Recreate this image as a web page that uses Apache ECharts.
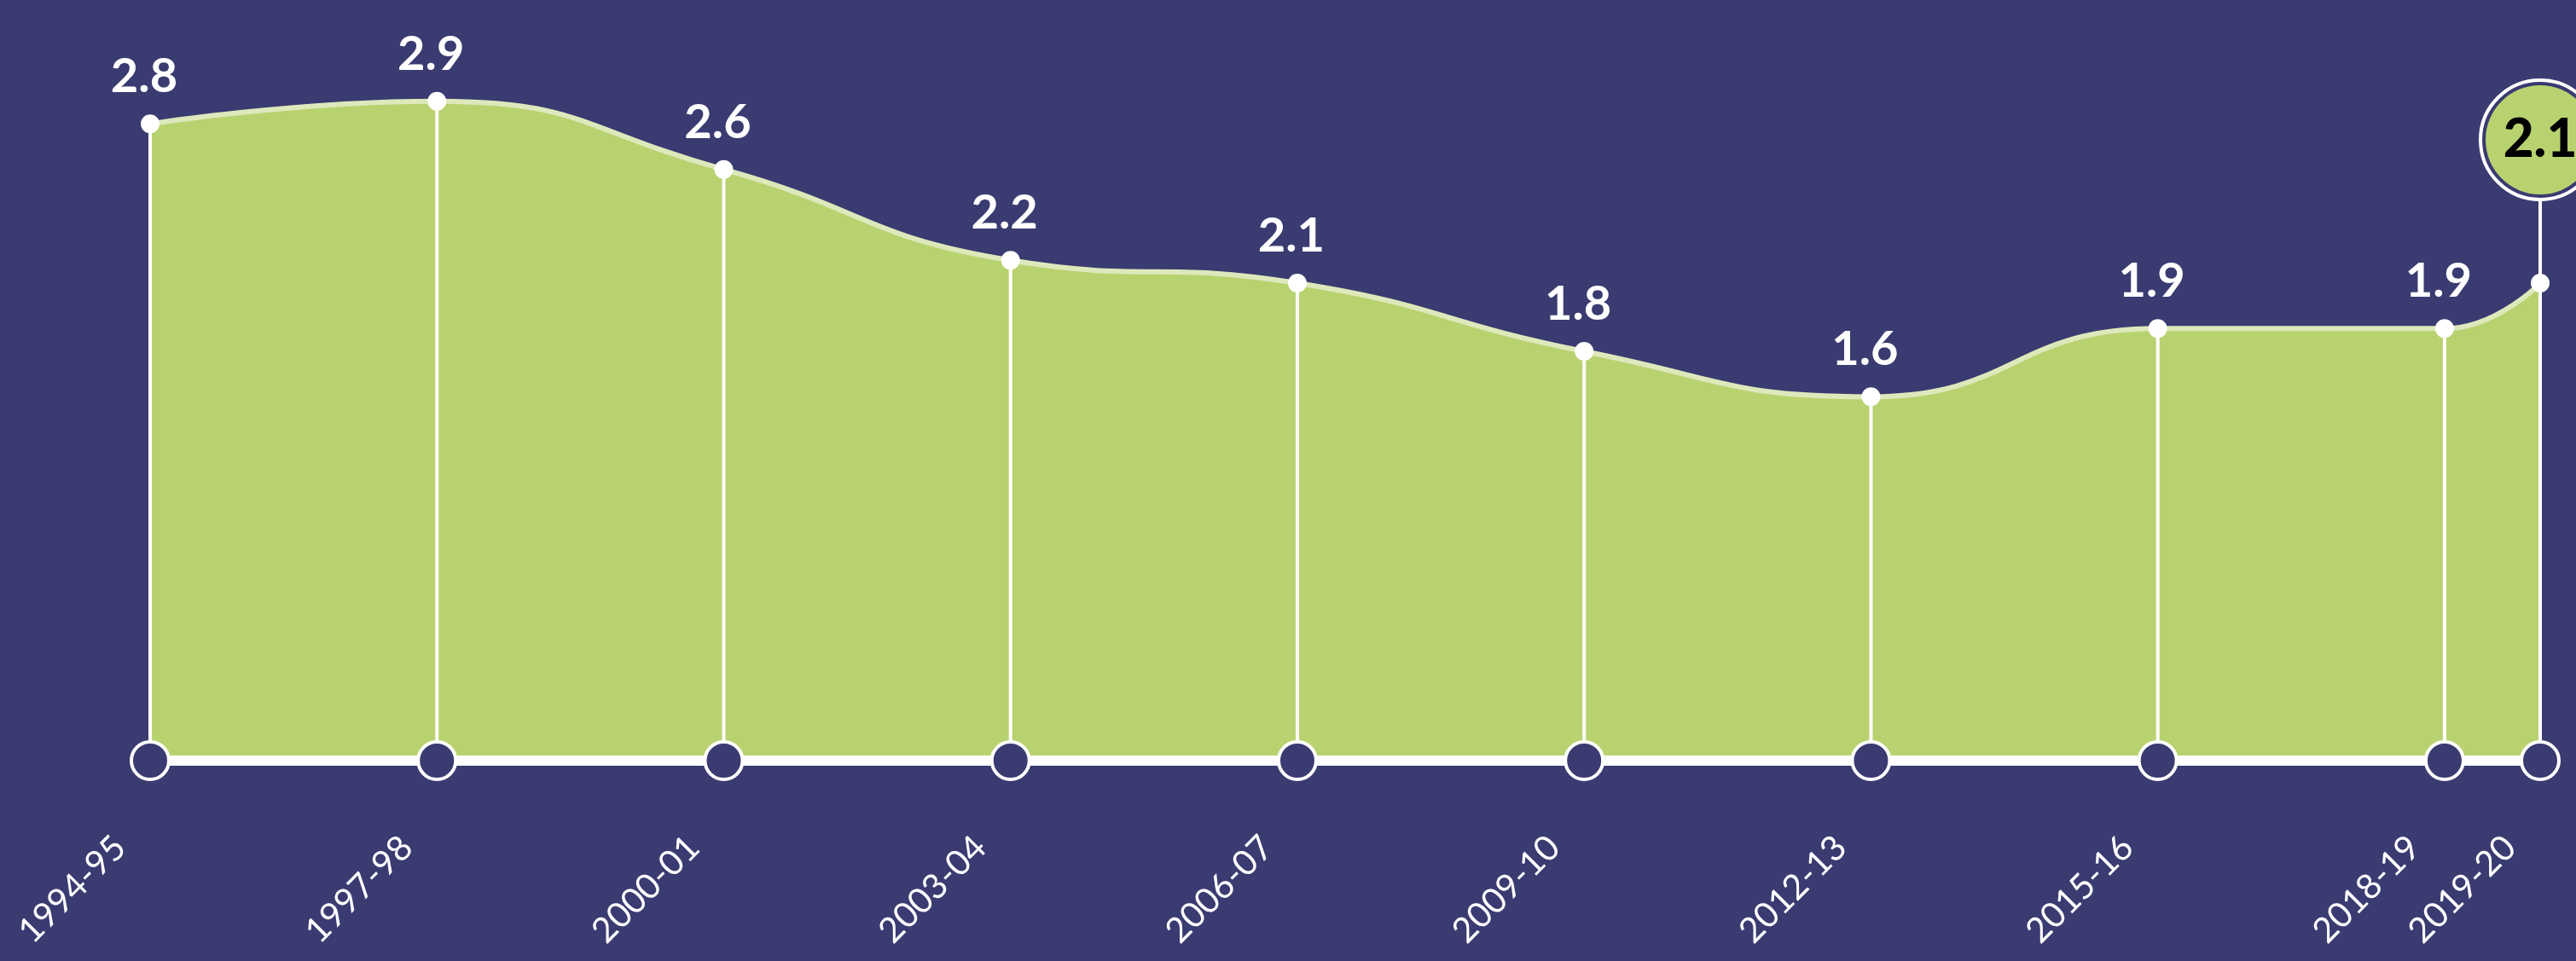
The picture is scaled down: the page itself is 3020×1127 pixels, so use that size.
<!DOCTYPE html>
<html><head><meta charset="utf-8">
<script src="https://cdn.jsdelivr.net/npm/echarts@6/dist/echarts.min.js"></script>
<style>html,body{margin:0;padding:0;background:#3a3b71;} #c{width:3020px;height:1127px;}</style>
</head><body><div id="c"></div>
<script>
const years = [1994, 1997, 2000, 2003, 2006, 2009, 2012, 2015, 2018, 2019];
const tickLabels = ['1994-95','1997-98','2000-01','2003-04','2006-07','2009-10','2012-13','2015-16','2018-19','2019-20'];
const values = [2.8, 2.9, 2.6, 2.2, 2.1, 1.8, 1.6, 1.9, 1.9, 2.1];

const NAVY = '#3a3b71', GREEN = '#b9d270', LINE = '#dde9bb', WHITE = '#ffffff';
const pts = years.map((y, i) => [y, values[i]]);
const last = pts.length - 1;
const base = years.map(y => [y, 0]);

const chart = echarts.init(document.getElementById('c'));
chart.setOption({
  backgroundColor: NAVY,
  animation: false,
  grid: { left: 176, right: 42, top: 92, bottom: 235 },
  xAxis: {
    type: 'value', min: years[0], max: years[last], z: 4,
    axisLine: { show: true, onZero: false, lineStyle: { color: WHITE, width: 12 } },
    axisTick: { show: false },
    splitLine: { show: false },
    axisLabel: {
      customValues: years,
      formatter: v => tickLabels[years.indexOf(v)] || '',
      rotate: 45, margin: 60, padding: [0, 50, 0, 0],
      color: WHITE, fontSize: 41, fontFamily: 'Lato'
    }
  },
  yAxis: { type: 'value', min: 0, max: 3, show: false },
  series: [
    {
      type: 'line', data: pts, smooth: 0.5, clip: false,
      symbol: 'circle', symbolSize: 22, itemStyle: { color: WHITE },
      lineStyle: { color: LINE, width: 6 },
      areaStyle: { color: GREEN, opacity: 1 },
      label: {
        show: true, position: 'top', distance: 16, offset: [-7, 0],
        color: WHITE, fontSize: 56, fontWeight: 'bold', fontFamily: 'Lato',
        formatter: p => p.dataIndex === last ? '' : p.value[1].toFixed(1)
      },
      z: 2
    },
    {
      type: 'bar', data: pts, barWidth: 4, itemStyle: { color: WHITE, opacity: 1 }, z: 3, silent: true
    },
    {
      type: 'scatter', data: [pts[last]], clip: false, symbol: 'rect',
      symbolSize: [4, 168], symbolOffset: [0, -84], itemStyle: { color: WHITE, opacity: 1 }, z: 3
    },
    {
      type: 'scatter', data: base, clip: false, symbol: 'circle', symbolSize: 44,
      itemStyle: { color: NAVY, borderColor: WHITE, borderWidth: 4, opacity: 1 }, z: 5
    },
    {
      type: 'scatter', data: [pts[last]], clip: false, symbol: 'circle', symbolSize: 140,
      symbolOffset: [0, -168],
      itemStyle: { color: NAVY, borderColor: WHITE, borderWidth: 4, opacity: 1 }, z: 6
    },
    {
      type: 'scatter', data: [pts[last]], clip: false, symbol: 'circle', symbolSize: 128,
      symbolOffset: [0, -168],
      itemStyle: { color: GREEN, opacity: 1 },
      label: {
        show: true, position: 'inside', color: '#000', fontSize: 62, fontWeight: 900,
        fontFamily: 'Lato', formatter: p => p.value[1].toFixed(1)
      },
      z: 7
    }
  ]
});
</script></body></html>
